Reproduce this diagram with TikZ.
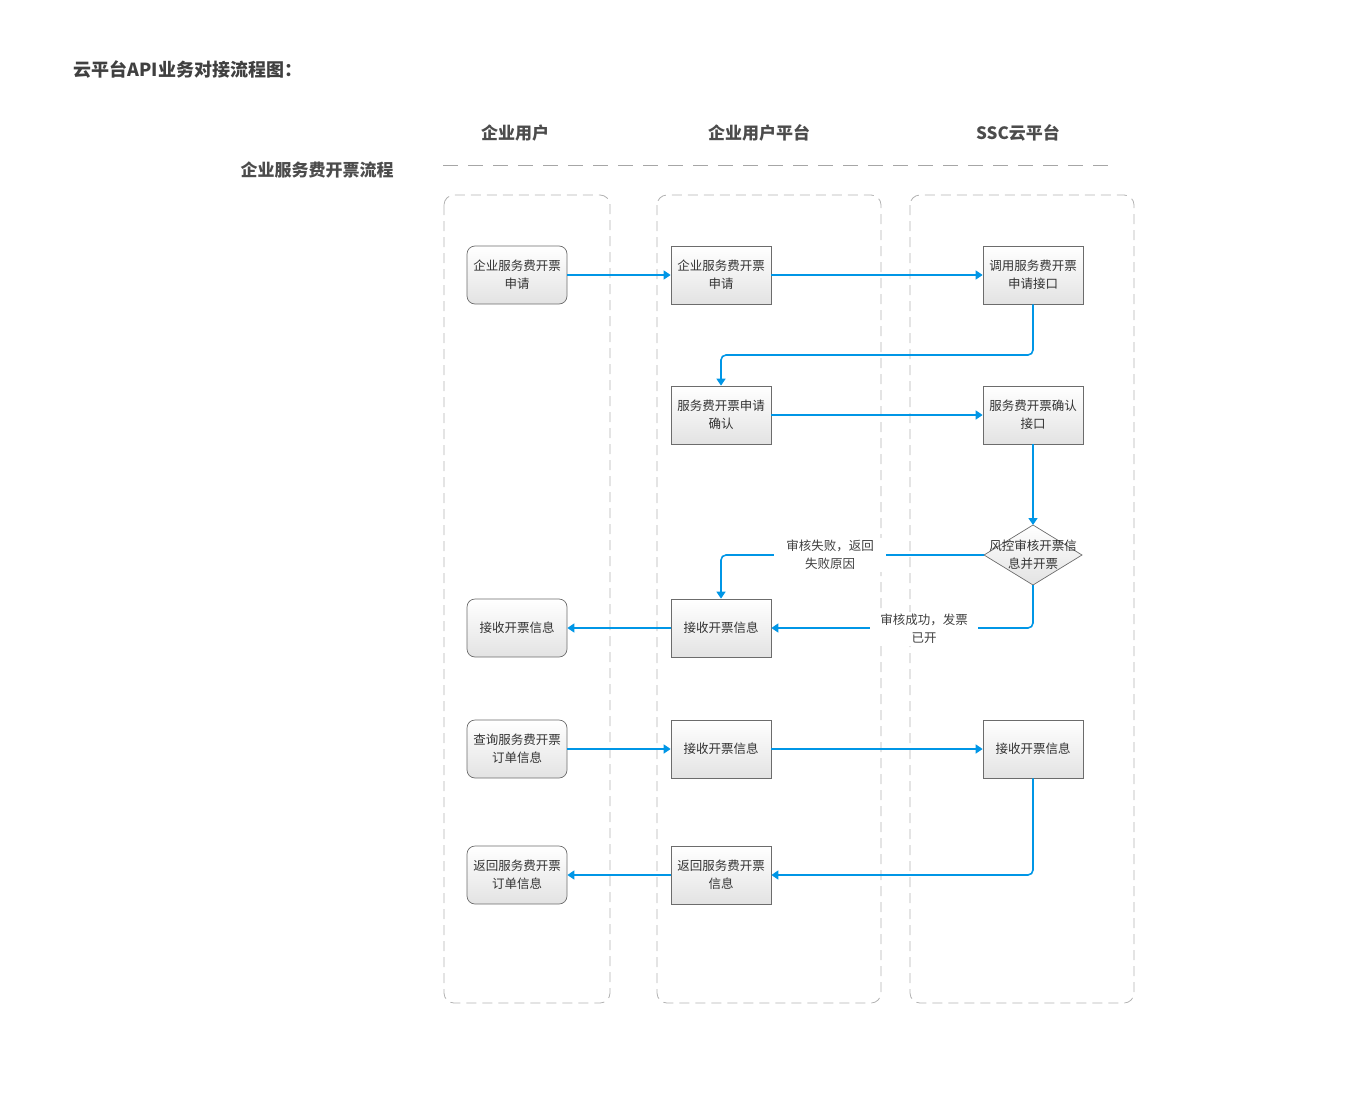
\documentclass[tikz,border=0pt]{standalone}
\usepackage{fontspec}
\setmainfont{Noto Sans CJK SC}
\usetikzlibrary{shapes.geometric,arrows.meta}
\definecolor{ab}{RGB}{0,150,230}
\begin{document}
\begin{tikzpicture}[x=1pt,y=-1pt,
 lane/.style={draw=gray!60,dashed,dash pattern=on 10pt off 6pt,rounded corners=10pt,line width=0.8pt},
 box/.style={draw=gray!85!black,line width=0.7pt,minimum width=100pt,minimum height=58pt,top color=white,bottom color=gray!22,align=center,font=\fontsize{12.5}{18}\selectfont,text=black!80,inner sep=1pt},
 rbox/.style={box,rounded corners=8pt},
 ar/.style={draw=ab,line width=1.6pt,-{Triangle[length=7pt,width=9pt]},rounded corners=5pt},
 lab/.style={fill=white,align=center,font=\fontsize{12.5}{18}\selectfont,text=black!75,inner sep=2pt},
 hd/.style={font=\fontsize{17}{20}\selectfont\bfseries,text=black!70}]
\useasboundingbox (0,0) rectangle (1346,1113);
\node[anchor=west,font=\fontsize{18}{20}\selectfont\bfseries,text=black!75] (title) at (70,70) {云平台API业务对接流程图：};
\node[hd] (h1) at (515,133) {企业用户};
\node[hd] (h2) at (759,133) {企业用户平台};
\node[hd] (h3) at (1018,133) {SSC云平台};
\node[hd] (h0) at (317,170) {企业服务费开票流程};
\draw[gray!70,line width=1pt,dash pattern=on 15pt off 10pt] (443,165) -- (1110,165);
\draw[lane] (444,195) rectangle (610,1003);
\draw[lane] (657,195) rectangle (881,1003);
\draw[lane] (910,195) rectangle (1134,1003);
\node[rbox] (a1) at (517,275) {企业服务费开票\\申请};
\node[box] (b1) at (721,275) {企业服务费开票\\申请};
\node[box] (c1) at (1033,275) {调用服务费开票\\申请接口};
\node[box] (b2) at (721,415) {服务费开票申请\\确认};
\node[box] (c2) at (1033,415) {服务费开票确认\\接口};
\coordinate (dn) at (1033,525);
\coordinate (ds) at (1033,585);
\coordinate (dw) at (984,555);
\coordinate (de) at (1082,555);
\shade[draw=gray!85!black,line width=0.7pt,top color=white,bottom color=gray!22] (dn) -- (de) -- (ds) -- (dw) -- cycle;
\node[align=center,font=\fontsize{12.5}{18}\selectfont,text=black!80,inner sep=0pt] (d) at (1033,555) {风控审核开票信\\息并开票};
\node[rbox] (a3) at (517,628) {接收开票信息};
\node[box] (b3) at (721,628) {接收开票信息};
\node[rbox] (a4) at (517,749) {查询服务费开票\\订单信息};
\node[box] (b4) at (721,749) {接收开票信息};
\node[box] (c4) at (1033,749) {接收开票信息};
\node[rbox] (a5) at (517,875) {返回服务费开票\\订单信息};
\node[box] (b5) at (721,875) {返回服务费开票\\信息};
\draw[ar] (a1) -- (b1);
\draw[ar] (b1) -- (c1);
\draw[ar] (c1.south) |- (850,355) -| (b2.north);
\draw[ar] (b2) -- (c2);
\draw[ar] (c2) -- (dn);
\draw[ar] (dw) -| (b3.north);
\node[lab,inner xsep=12pt] (l1) at (830,555) {审核失败，返回\\失败原因};
\draw[ar] (ds) |- (b3.east);
\node[lab,inner xsep=10pt] (l2) at (924,629) {审核成功，发票\\已开};
\draw[ar] (b3) -- (a3);
\draw[ar] (a4) -- (b4);
\draw[ar] (b4) -- (c4);
\draw[ar] (c4.south) |- (b5.east);
\draw[ar] (b5) -- (a5);
\end{tikzpicture}
\end{document}
